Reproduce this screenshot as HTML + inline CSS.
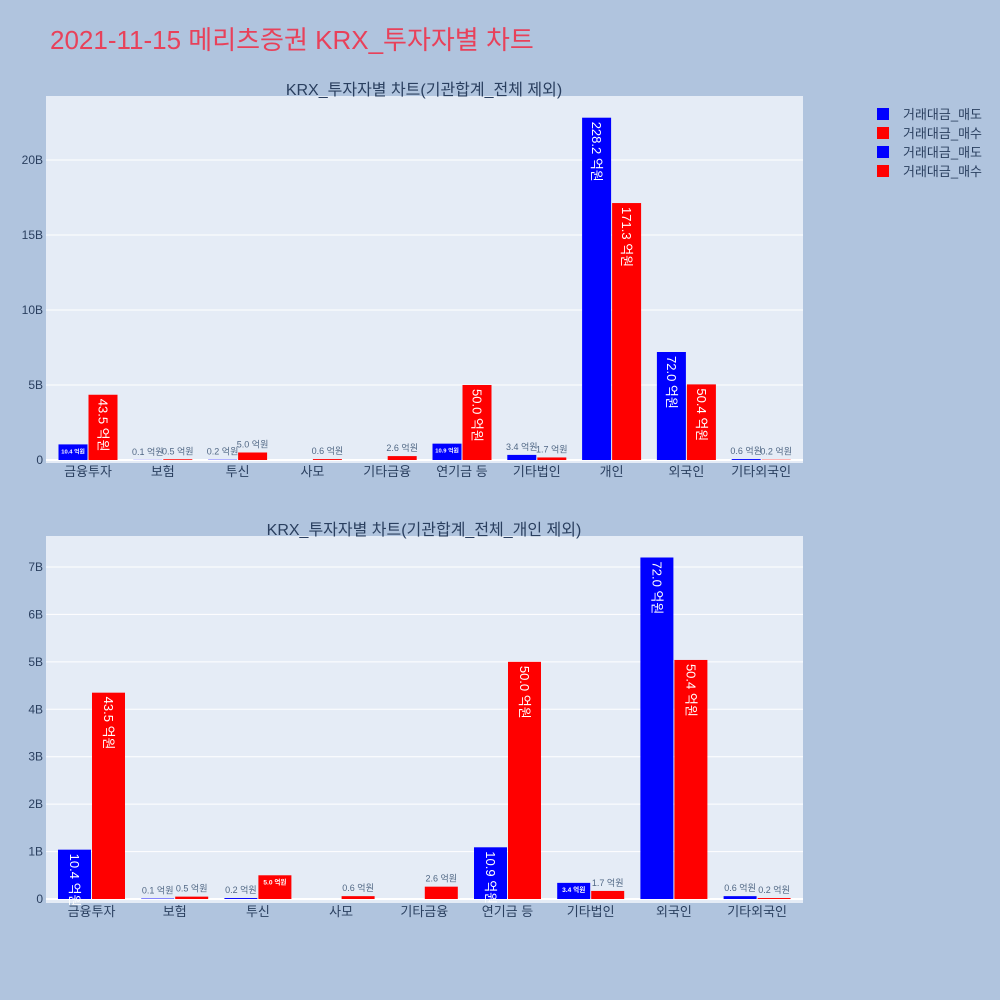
<!DOCTYPE html>
<html><head><meta charset="utf-8">
<style>
body{margin:0;background:#b0c4de;}
svg{display:block;font-family:"Liberation Sans","Noto Sans CJK KR",sans-serif;}
</style></head>
<body>
<svg id="chart" width="1000" height="1000" xmlns="http://www.w3.org/2000/svg">
<rect x="0" y="0" width="1000" height="1000" fill="#b0c4de"/>
<text x="50" y="49" font-size="26" fill="#e8415a">2021-11-15 메리츠증권 KRX_투자자별 차트</text>
<g id="legend"></g>
</svg>
<script>
const categoriesTop = ["금융투자","보험","투신","사모","기타금융","연기금 등","기타법인","개인","외국인","기타외국인"];
const sellTop = [10.4,0.1,0.2,0,0,10.9,3.4,228.2,72.0,0.6];
const buyTop = [43.5,0.5,5.0,0.6,2.6,50.0,1.7,171.3,50.4,0.2];
const ticksTop = [0,5,10,15,20];
const categoriesBot = ["금융투자","보험","투신","사모","기타금융","연기금 등","기타법인","외국인","기타외국인"];
const sellBot = [10.4,0.1,0.2,0,0,10.9,3.4,72.0,0.6];
const buyBot = [43.5,0.5,5.0,0.6,2.6,50.0,1.7,50.4,0.2];
const ticksBot = [0,1,2,3,4,5,6,7];
const legendLabels = ["거래대금_매도","거래대금_매수","거래대금_매도","거래대금_매수"];
const legendColors = ["#0000ff","#ff0000","#0000ff","#ff0000"];

const svg = document.getElementById('chart');
const NS = "http://www.w3.org/2000/svg";
function mk(tag, attrs, parent){const e=document.createElementNS(NS,tag);for(const k in attrs)e.setAttribute(k,attrs[k]);(parent||svg).appendChild(e);return e;}

function drawPanel(opt){
  const g = mk('g',{});
  
  
  const bg = mk('rect',{x:opt.x0,y:opt.y0,width:opt.x1-opt.x0,height:opt.y1-opt.y0,fill:'#e5ecf6'},g);
  
  
  const y = v => opt.zeroY - v/10 * opt.pxPerB; // values in 억원 -> B (1B = 10억)
  const x = i => opt.c0 + opt.step*i;
  opt.ticks.forEach(t=>{
    const yy = opt.zeroY - t*opt.pxPerB;
    const ln = mk('line',{x1:opt.x0,x2:opt.x1,y1:yy,y2:yy,stroke:'#fff','stroke-width':t===0?2:1},g);
    
    
    const tx = mk('text',{x:opt.x0-3,y:yy+4,'font-size':12,fill:'#2a3f5f','text-anchor':'end'},g);
    
    
    tx.textContent = t===0?'0':t+'B';
  });
  const w = opt.bw;
  opt.cats.forEach((c,i)=>{
    const tx = mk('text',{x:x(i),y:opt.y1+13,'font-size':13,fill:'#2a3f5f','text-anchor':'middle'},g);
    
    
    tx.textContent = c;
    [[opt.sell[i],'#0000ff',x(i)-w-0.5,'sell'],[opt.buy[i],'#ff0000',x(i)+0.5,'buy']].forEach(([v,col,bx,kind])=>{
      const top = y(v), h = opt.zeroY-top;
      const r = mk('rect',{x:bx,y:top,width:w,height:Math.max(h,0),fill:col},g);
      
      
      if(v===0) return;
      const label = v.toFixed(1)+' 억원';
      const cx = bx+w/2;
      let t;
      if(h>40){
        t = mk('text',{x:0,y:0,'font-size':13,fill:'#fff',transform:`translate(${cx-4.5},${top+4}) rotate(90)`},g);
      } else if(h>13){
        const fs = Math.min(8, w/5);
        t = mk('text',{x:cx,y:top+Math.min(h/2+3,9),'font-size':fs,'font-weight':'bold',fill:'#fff','text-anchor':'middle'},g);
      } else {
        t = mk('text',{x:cx,y:top-5,'font-size':9,fill:'#506784','text-anchor':'middle'},g);
      }
      
      
      t.textContent = label;
    });
  });
  const st = mk('text',{x:opt.titleX,y:opt.titleY,'font-size':16,fill:'#2a3f5f','text-anchor':'middle'},g);
  
  
  st.textContent = opt.title;
}

drawPanel({name:'top-chart',x0:46,x1:803,y0:96,y1:463,zeroY:460,pxPerB:15,c0:88,step:74.8,bw:29,
  cats:categoriesTop,sell:sellTop,buy:buyTop,ticks:ticksTop,title:'KRX_투자자별 차트(기관합계_전체 제외)',titleX:424,titleY:95});
drawPanel({name:'bottom-chart',x0:46,x1:803,y0:536,y1:903,zeroY:899,pxPerB:47.43,c0:91.5,step:83.2,bw:33,
  cats:categoriesBot,sell:sellBot,buy:buyBot,ticks:ticksBot,title:'KRX_투자자별 차트(기관합계_전체_개인 제외)',titleX:424,titleY:535});

const lg = document.getElementById('legend');
legendLabels.forEach((l,i)=>{
  const yy = 114 + i*19;
  const r = mk('rect',{x:877,y:yy-6,width:12,height:12,fill:legendColors[i]},lg);
  
  
  const t = mk('text',{x:903,y:yy+5,'font-size':13,fill:'#2a3f5f'},lg);
  
  
  t.textContent = l;
});
</script>
</body></html>
